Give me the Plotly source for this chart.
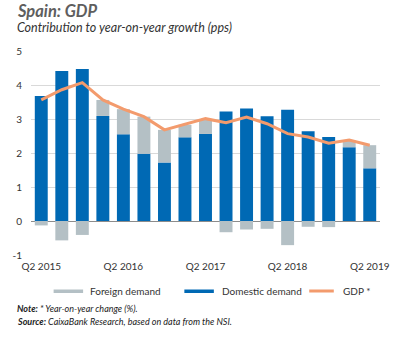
import plotly.graph_objects as go

quarters = ["Q2 2015", "Q3 2015", "Q4 2015", "Q1 2016", "Q2 2016", "Q3 2016", "Q4 2016",
            "Q1 2017", "Q2 2017", "Q3 2017", "Q4 2017", "Q1 2018", "Q2 2018", "Q3 2018",
            "Q4 2018", "Q1 2019", "Q2 2019"]
domestic = [3.68, 4.41, 4.47, 3.09, 2.55, 1.98, 1.72, 2.46, 2.56, 3.22, 3.31, 3.08, 3.27,
            2.64, 2.47, 2.17, 1.55]
foreign = [-0.13, -0.57, -0.41, 0.47, 0.74, 1.09, 0.96, 0.37, 0.43, -0.33, -0.25, -0.23,
           -0.71, -0.17, -0.18, 0.20, 0.68]
gdp = [3.56, 3.86, 4.07, 3.56, 3.29, 3.07, 2.68, 2.84, 3.01, 2.89, 3.06, 2.86, 2.57,
       2.47, 2.29, 2.38, 2.23]
tick_labels = ["Q2 2015", "Q2 2016", "Q2 2017", "Q2 2018", "Q2 2019"]
y_ticks = [-1, 0, 1, 2, 3, 4, 5]
y_tick_text = ["-1", "0", "1", "2", "3", "4", "5"]

BLUE = "#0069B4"
GRAY = "#B4C0C5"
ORANGE = "#F39B6D"
FONT = "Lato"

W, H = 402, 338
ML, MR, MT, MB = 25, 22, 51, 83

fig = go.Figure()
fig.add_bar(x=quarters, y=domestic, marker_color=BLUE, marker_line_width=0, name="Domestic demand")
fig.add_bar(x=quarters, y=foreign, marker_color=GRAY, marker_line_width=0, name="Foreign demand")
fig.add_scatter(x=quarters, y=gdp, mode="lines", line=dict(color=ORANGE, width=3), name="GDP *")

fig.update_layout(
    width=W, height=H,
    margin=dict(l=ML, r=MR, t=MT, b=MB),
    paper_bgcolor="white", plot_bgcolor="white",
    barmode="relative", bargap=0.37,
    showlegend=False,
    font=dict(family=FONT, size=10, color="#333333"),
)
fig.update_xaxes(
    type="category", tickvals=tick_labels, ticktext=tick_labels,
    showgrid=False, showline=False, ticks="", tickfont=dict(size=10, color="#333333"),
    range=[-0.5, 16.5], ticklabelstandoff=4,
)
fig.update_yaxes(
    range=[-1, 5], tickvals=y_ticks, ticktext=y_tick_text,
    showgrid=True, gridcolor="#D9D9D9", gridwidth=1,
    zeroline=True, zerolinecolor="#8C8C8C", zerolinewidth=1,
    showline=False, ticks="", tickfont=dict(size=10, color="#333333"), ticklabelstandoff=8,
)


def px(x):
    return (x - ML) / float(W - ML - MR)


def py(y):
    return 1 - (y - MT) / float(H - MT - MB)


annotations = [
    dict(text="<b><i>Spain: GDP</i></b>", x=px(9), y=py(11), xanchor="left", yanchor="middle",
         font=dict(size=16.5, color="#5E5E5E")),
    dict(text="<i>Contribution to year-on-year growth (pps)</i>", x=px(9), y=py(28), xanchor="left",
         yanchor="middle", font=dict(size=12.5, color="#333333")),
    dict(text="Foreign demand", x=px(83), y=py(291), xanchor="left", yanchor="middle",
         font=dict(size=10, color="#333333")),
    dict(text="Domestic demand", x=px(217), y=py(291), xanchor="left", yanchor="middle",
         font=dict(size=10, color="#333333")),
    dict(text="GDP *", x=px(340), y=py(291), xanchor="left", yanchor="middle",
         font=dict(size=10, color="#333333")),
    dict(text="<b><i>Note:</i></b><i> * Year-on-year change (%).</i>", x=px(9), y=py(308),
         xanchor="left", yanchor="middle", font=dict(size=9, color="#222222")),
    dict(text="<b><i>Source:</i></b><i> CaixaBank Research, based on data from the NSI.</i>", x=px(9),
         y=py(321), xanchor="left", yanchor="middle", font=dict(size=9, color="#222222")),
]
for a in annotations:
    a.update(xref="paper", yref="paper", showarrow=False)

shapes = [
    dict(type="rect", x0=px(48), x1=px(78), y0=py(289.5), y1=py(293), fillcolor=GRAY, line_width=0),
    dict(type="rect", x0=px(181), x1=px(211), y0=py(289.5), y1=py(293), fillcolor=BLUE, line_width=0),
    dict(type="line", x0=px(308), x1=px(333), y0=py(291), y1=py(291), line=dict(color=ORANGE, width=3)),
]
for s in shapes:
    s.update(xref="paper", yref="paper")

fig.update_layout(annotations=annotations, shapes=shapes)
fig.write_html("out.html")
